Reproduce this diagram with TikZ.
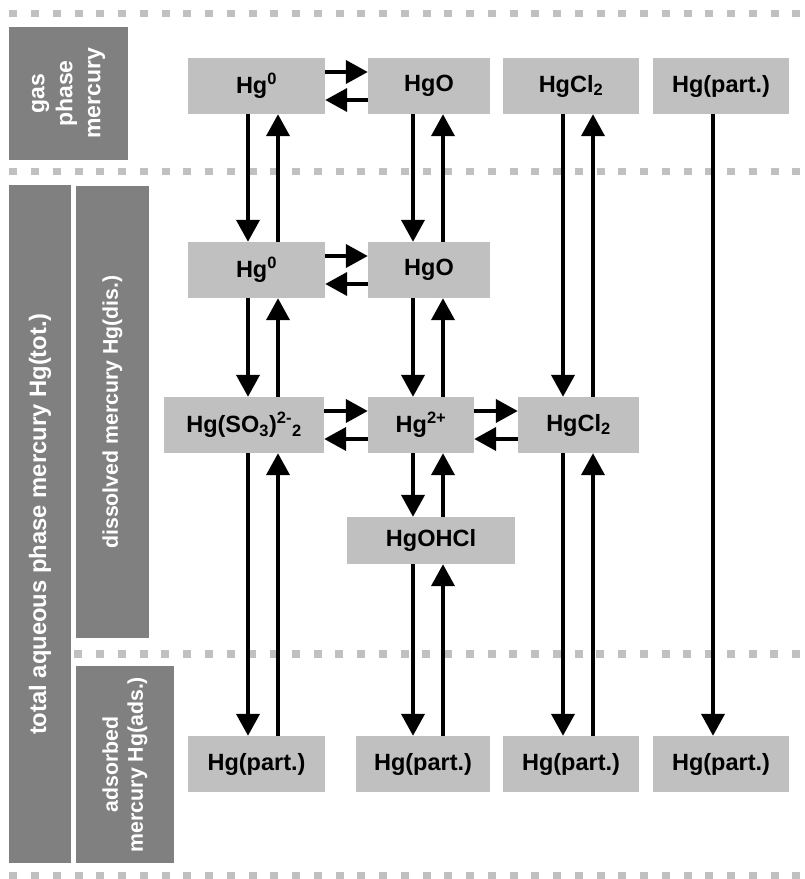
\documentclass[tikz,border=0pt]{standalone}
\usepackage{fontspec}
\setmainfont{Liberation Sans}
\usetikzlibrary{arrows.meta}
\definecolor{lightbox}{HTML}{C0C0C0}
\definecolor{darkbox}{HTML}{808080}
\tikzset{
  species/.style={fill=lightbox, inner sep=0pt, minimum height=56pt,
    font=\fontsize{23.5pt}{28pt}\selectfont\bfseries, text=black},
  sidebox/.style={fill=darkbox, inner sep=0pt},
  sidelabel/.style={text=white, align=center, inner sep=0pt, rotate=90},
  dashline/.style={draw=lightbox, line width=7.5pt, dash pattern=on 8pt off 13.75pt},
  arr/.style={line width=4pt, -{Triangle[length=22pt,width=23pt]}},
}
\begin{document}
\begin{tikzpicture}[x=1pt,y=-1pt]
\useasboundingbox (0,0) rectangle (804,879);
% dashed separators
\draw[dashline] (9.3,13.5) -- (806,13.5);
\draw[dashline] (9.3,171.5) -- (806,171.5);
\draw[dashline] (74.4,654) -- (806,654);
\draw[dashline] (9.3,875.5) -- (806,875.5);
% side boxes
\node[sidebox, minimum width=119pt, minimum height=133pt] (gasbox) at (68.5,93.5) {};
\node[sidelabel, font=\fontsize{23pt}{28pt}\selectfont\bfseries] (gaslabel) at (gasbox) {gas\\phase\\mercury};
\node[sidebox, minimum width=62pt, minimum height=678pt] (totbox) at (40,524) {};
\node[sidelabel, font=\fontsize{23.8pt}{28pt}\selectfont\bfseries] (totlabel) at (totbox) {total aqueous phase mercury Hg(tot.)};
\node[sidebox, minimum width=73pt, minimum height=452pt] (disbox) at (112.5,412) {};
\node[sidelabel, font=\fontsize{21.3pt}{25pt}\selectfont\bfseries] (dislabel) at (disbox) {dissolved mercury Hg(dis.)};
\node[sidebox, minimum width=98pt, minimum height=197pt] (adsbox) at (125,764.5) {};
\node[sidelabel, font=\fontsize{21.3pt}{25pt}\selectfont\bfseries] (adslabel) at (adsbox) {adsorbed\\mercury Hg(ads.)};
% species row 1 (gas)
\node[species, minimum width=137pt] (g1) at (256.5,86) {Hg\textsuperscript{0}};
\node[species, minimum width=122pt] (g2) at (429,86) {HgO};
\node[species, minimum width=136pt] (g3) at (571,86) {HgCl\textsubscript{2}};
\node[species, minimum width=136pt] (g4) at (721,86) {Hg(part.)};
% row 2
\node[species, minimum width=137pt] (d1) at (256.5,270) {Hg\textsuperscript{0}};
\node[species, minimum width=122pt] (d2) at (429,270) {HgO};
% row 3
\node[species, minimum width=160pt] (s1) at (244,425) {Hg(SO\textsubscript{3})\textsuperscript{2-}\textsubscript{2}};
\node[species, minimum width=106pt] (s2) at (421,425) {Hg\textsuperscript{2+}};
\node[species, minimum width=121pt] (s3) at (578.5,425) {HgCl\textsubscript{2}};
% row 4
\node[species, minimum width=168pt, minimum height=47pt] (oh) at (431,540.5) {HgOHCl};
% row 5
\node[species, minimum width=137pt] (p1) at (256.5,764) {Hg(part.)};
\node[species, minimum width=134pt] (p2) at (423,764) {Hg(part.)};
\node[species, minimum width=136pt] (p3) at (571,764) {Hg(part.)};
\node[species, minimum width=136pt] (p4) at (721,764) {Hg(part.)};
% column / row guide coordinates
\coordinate (c1a) at (248,0);
\coordinate (c1b) at (278,0);
\coordinate (c2a) at (413,0);
\coordinate (c2b) at (443,0);
\coordinate (c3a) at (563,0);
\coordinate (c3b) at (593,0);
\coordinate (c4a) at (713,0);
\coordinate (r1a) at (0,72);
\coordinate (r1b) at (0,100);
\coordinate (r2a) at (0,256);
\coordinate (r2b) at (0,284);
\coordinate (r3a) at (0,411);
\coordinate (r3b) at (0,439);
% horizontal arrows
\draw[arr] (g1.east |- r1a) -- (g2.west |- r1a);
\draw[arr] (g2.west |- r1b) -- (g1.east |- r1b);
\draw[arr] (d1.east |- r2a) -- (d2.west |- r2a);
\draw[arr] (d2.west |- r2b) -- (d1.east |- r2b);
\draw[arr] (s1.east |- r3a) -- (s2.west |- r3a);
\draw[arr] (s2.west |- r3b) -- (s1.east |- r3b);
\draw[arr] (s2.east |- r3a) -- (s3.west |- r3a);
\draw[arr] (s3.west |- r3b) -- (s2.east |- r3b);
% column 1
\draw[arr] (g1.south -| c1a) -- (d1.north -| c1a);
\draw[arr] (d1.north -| c1b) -- (g1.south -| c1b);
\draw[arr] (d1.south -| c1a) -- (s1.north -| c1a);
\draw[arr] (s1.north -| c1b) -- (d1.south -| c1b);
\draw[arr] (s1.south -| c1a) -- (p1.north -| c1a);
\draw[arr] (p1.north -| c1b) -- (s1.south -| c1b);
% column 2
\draw[arr] (g2.south -| c2a) -- (d2.north -| c2a);
\draw[arr] (d2.north -| c2b) -- (g2.south -| c2b);
\draw[arr] (d2.south -| c2a) -- (s2.north -| c2a);
\draw[arr] (s2.north -| c2b) -- (d2.south -| c2b);
\draw[arr] (s2.south -| c2a) -- (oh.north -| c2a);
\draw[arr] (oh.north -| c2b) -- (s2.south -| c2b);
\draw[arr] (oh.south -| c2a) -- (p2.north -| c2a);
\draw[arr] (p2.north -| c2b) -- (oh.south -| c2b);
% column 3
\draw[arr] (g3.south -| c3a) -- (s3.north -| c3a);
\draw[arr] (s3.north -| c3b) -- (g3.south -| c3b);
\draw[arr] (s3.south -| c3a) -- (p3.north -| c3a);
\draw[arr] (p3.north -| c3b) -- (s3.south -| c3b);
% column 4
\draw[arr] (g4.south -| c4a) -- (p4.north -| c4a);
\end{tikzpicture}
\end{document}
